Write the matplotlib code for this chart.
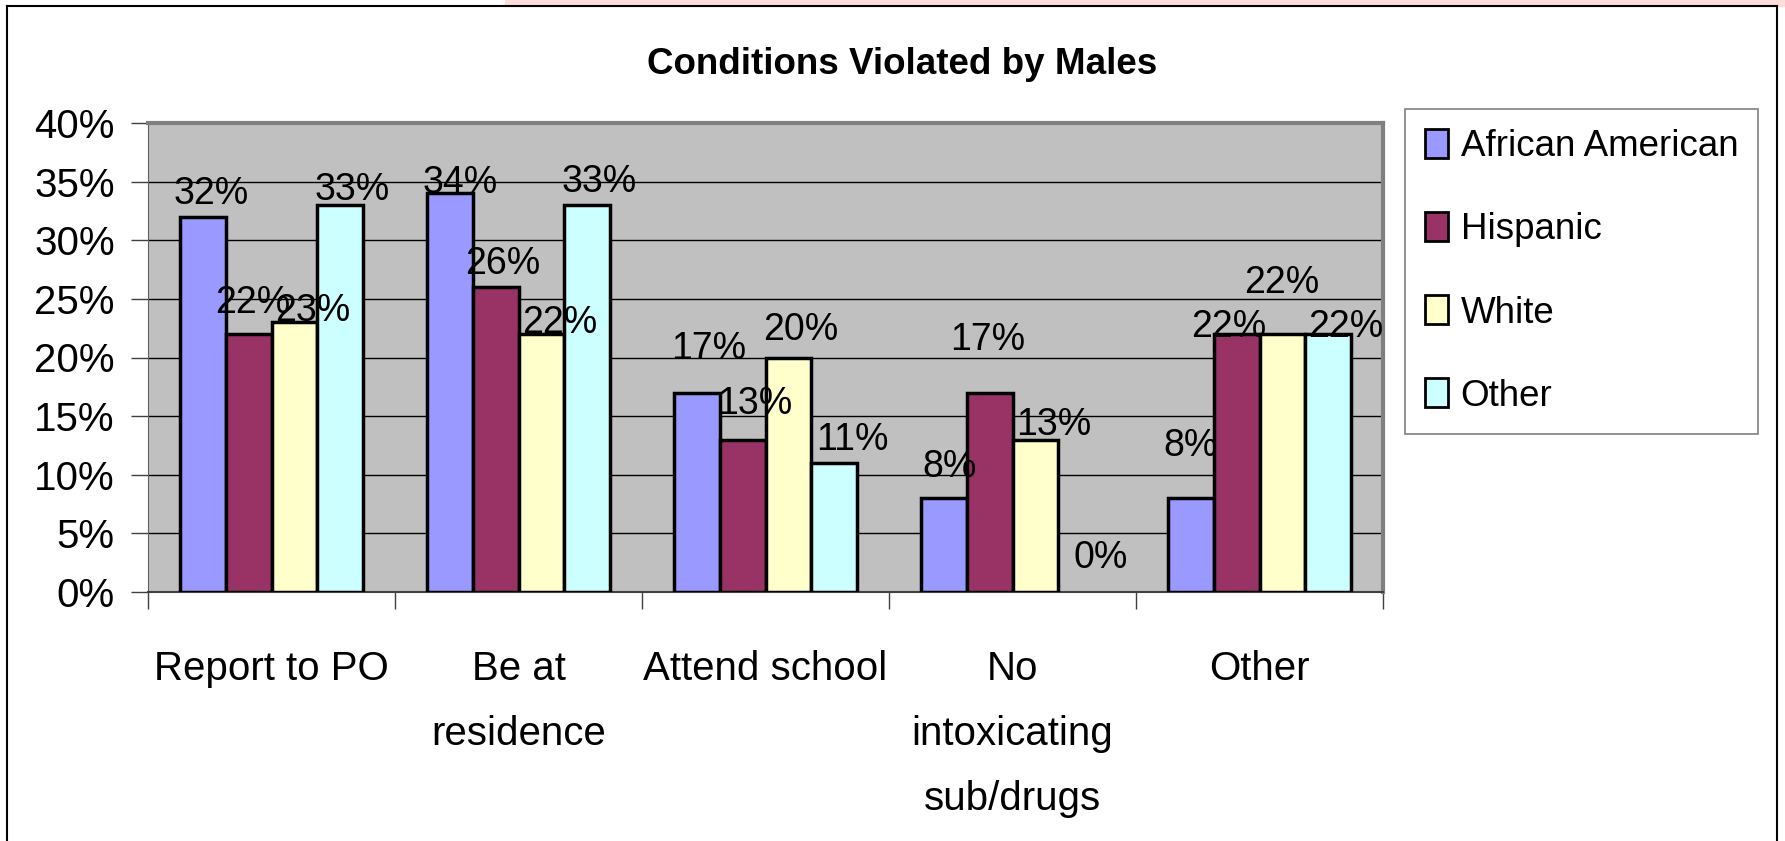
import matplotlib.pyplot as plt
import numpy as np
from matplotlib.patches import Rectangle
from matplotlib.ticker import FixedLocator

plt.rcParams["font.family"] = ["Liberation Sans", "DejaVu Sans"]

# data
categories = ["Report to PO", "Be at\nresidence", "Attend school",
              "No\nintoxicating\nsub/drugs", "Other"]
groups = ["African American", "Hispanic", "White", "Other"]
african_american = [32, 34, 17, 8, 8]
hispanic = [22, 26, 13, 17, 22]
white = [23, 22, 20, 13, 22]
other = [33, 33, 11, 0, 22]
y_ticks = [0, 5, 10, 15, 20, 25, 30, 35, 40]

colors = ["#9999FF", "#993366", "#FFFFCC", "#CCFFFF"]
# label centre offsets from bar top centre in pixels (dx, dy), one row per series
label_offsets = [
    [(8, 27), (10, 14), (12, 48), (6, 35), (0, 56)],
    [(4, 35), (7, 27), (12, 40), (-2, 57), (-8, 11)],
    [(18, 15), (18, 15), (12, 31), (18, 19), (-1, 55)],
    [(12, 19), (12, 27), (18, 27), (20, 38), (18, 11)],
]

W, H = 1785, 841
fig = plt.figure(figsize=(W / 100, H / 100), dpi=100)

# outer frame like the slide
fig.patches.append(Rectangle((505 / W, 1 - 6 / H), 1 - 505 / W, 6 / H,
                             transform=fig.transFigure, color="#FFDDDD", zorder=0))
fig.add_artist(plt.Line2D([7 / W, 1777 / W], [1 - 6 / H, 1 - 6 / H],
                          transform=fig.transFigure, color="black", lw=1.5))
fig.add_artist(plt.Line2D([7 / W, 7 / W], [0, 1 - 6 / H],
                          transform=fig.transFigure, color="black", lw=1.5))
fig.add_artist(plt.Line2D([1777 / W, 1777 / W], [0, 1 - 6 / H],
                          transform=fig.transFigure, color="black", lw=1.5))

ax = fig.add_axes([148 / W, 1 - 592 / H, (1383 - 148) / W, (592 - 123) / H])
ax.set_facecolor("#C0C0C0")

x = np.arange(len(categories))
w = 0.185
series = [african_american, hispanic, white, other]
for j, (name, vals) in enumerate(zip(groups, series)):
    bars = ax.bar(x + (j - 1.5) * w, vals, w, color=colors[j], edgecolor="black",
                  linewidth=2.5, label=name, zorder=3)
    for i, (b, v) in enumerate(zip(bars, vals)):
        if v == 0:
            b.set_linewidth(0)
        dx, dy = label_offsets[j][i]
        ax.annotate(f"{v}%", (b.get_x() + b.get_width() / 2, v),
                    xytext=(dx, dy - 14), textcoords="offset pixels",
                    ha="center", va="baseline", fontsize=27, zorder=4)

ax.set_xlim(-0.5, len(categories) - 0.5)
ax.set_ylim(0, 40)
ax.set_yticks(y_ticks)
ax.set_yticklabels([f"{t}%" for t in y_ticks])
ax.yaxis.grid(True, color="black", lw=1)
ax.set_axisbelow(True)

ax.set_xticks(x)
ax.set_xticklabels(categories)
ax.xaxis.set_minor_locator(FixedLocator(np.arange(-0.5, len(categories), 1)))
ax.tick_params(axis="x", which="major", length=0, pad=42, labelsize=29)
ax.tick_params(axis="x", which="minor", length=12, width=1, color="#404040")
ax.tick_params(axis="y", length=12, width=1, color="#404040", pad=12, labelsize=29)
for t in ax.get_xticklabels():
    t.set_linespacing(1.9)

for s in ["top", "right"]:
    ax.spines[s].set_color("#808080")
    ax.spines[s].set_linewidth(3)
ax.spines["left"].set_color("#606060")
ax.spines["bottom"].set_color("#404040")
ax.spines["bottom"].set_linewidth(1.5)

fig.text(902 / W, 1 - 65 / H, "Conditions Violated by Males", ha="center",
         va="center", fontsize=26.5, fontweight="bold")

leg = fig.legend(loc="upper left", bbox_to_anchor=(1405 / W, 1 - 109 / H),
                 borderaxespad=0, fontsize=26.5, frameon=True, fancybox=False,
                 edgecolor="#606060", handlelength=0.61, handleheight=0.83,
                 handletextpad=0.35, labelspacing=1.3, borderpad=0.55)
leg.get_frame().set_linewidth(1.2)
for p in leg.get_patches():
    p.set_linewidth(2)

fig.savefig("out.png", dpi=100)
